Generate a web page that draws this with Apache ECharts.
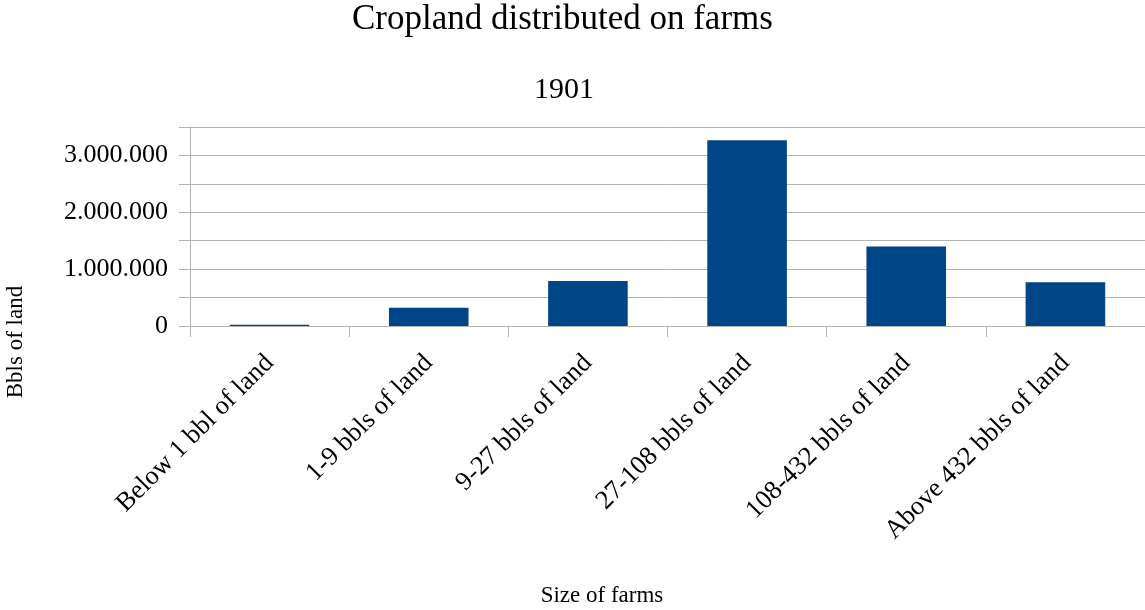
<!DOCTYPE html>
<html>
<head>
<meta charset="utf-8">
<script src="https://cdn.jsdelivr.net/npm/echarts@6/dist/echarts.min.js"></script>
<style>
  html, body { margin: 0; padding: 0; background: #fff; }
  #chart { width: 1145px; height: 610px; }
</style>
</head>
<body>
<div id="chart"></div>
<script>
const categories = [
  'Below 1 bbl of land',
  '1-9 bbls of land',
  '9-27 bbls of land',
  '27-108 bbls of land',
  '108-432 bbls of land',
  'Above 432 bbls of land'
]
const cropland = [20000, 320000, 790000, 3265000, 1400000, 770000]

const font = 'Liberation Serif'
const gridColor = '#b3b3b3'

const fmt = v => String(v).replace(/\B(?=(\d{3})+(?!\d))/g, '.')

const chart = echarts.init(document.getElementById('chart'))

chart.setOption({
  animation: false,
  title: [
    {
      text: 'Cropland distributed on farms',
      left: 352,
      top: 2,
      padding: 0,
      textStyle: { fontFamily: font, fontSize: 35, fontWeight: 'normal', color: '#000' }
    },
    {
      text: '1901',
      left: 534,
      top: 75,
      padding: 0,
      textStyle: { fontFamily: font, fontSize: 30, fontWeight: 'normal', color: '#000' }
    }
  ],
  graphic: [
    {
      type: 'text',
      x: 16,
      y: 342,
      rotation: Math.PI / 2,
      style: {
        text: 'Bbls of land',
        font: '23px "Liberation Serif"',
        fill: '#000',
        align: 'center',
        verticalAlign: 'middle'
      }
    },
    {
      type: 'text',
      x: 602,
      y: 596,
      style: {
        text: 'Size of farms',
        font: '23px "Liberation Serif"',
        fill: '#000',
        align: 'center',
        verticalAlign: 'middle'
      }
    }
  ],
  grid: {
    left: 190,
    right: 0,
    top: 127,
    bottom: 284,
    containLabel: false
  },
  xAxis: {
    type: 'category',
    data: categories,
    axisLine: { lineStyle: { color: gridColor, width: 1 } },
    axisTick: { show: true, length: 11, lineStyle: { color: gridColor } },
    axisLabel: {
      interval: 0,
      rotate: 45,
      margin: 33,
      padding: [34, 0, 0, 0],
      fontFamily: font,
      fontSize: 26.5,
      color: '#000'
    }
  },
  yAxis: {
    type: 'value',
    min: 0,
    max: 3500000,
    interval: 500000,
    axisLine: { show: true, lineStyle: { color: gridColor } },
    axisTick: { show: true, length: 11, lineStyle: { color: gridColor } },
    splitLine: { lineStyle: { color: gridColor, width: 1 } },
    axisLabel: {
      margin: 22,
      fontFamily: font,
      fontSize: 26,
      color: '#000',
      formatter: v => (v % 1000000 === 0 ? fmt(v) : '')
    }
  },
  series: [
    {
      name: 'Cropland',
      type: 'bar',
      data: cropland,
      barWidth: '50%',
      itemStyle: { color: '#004586' }
    }
  ]
})
</script>
</body>
</html>
